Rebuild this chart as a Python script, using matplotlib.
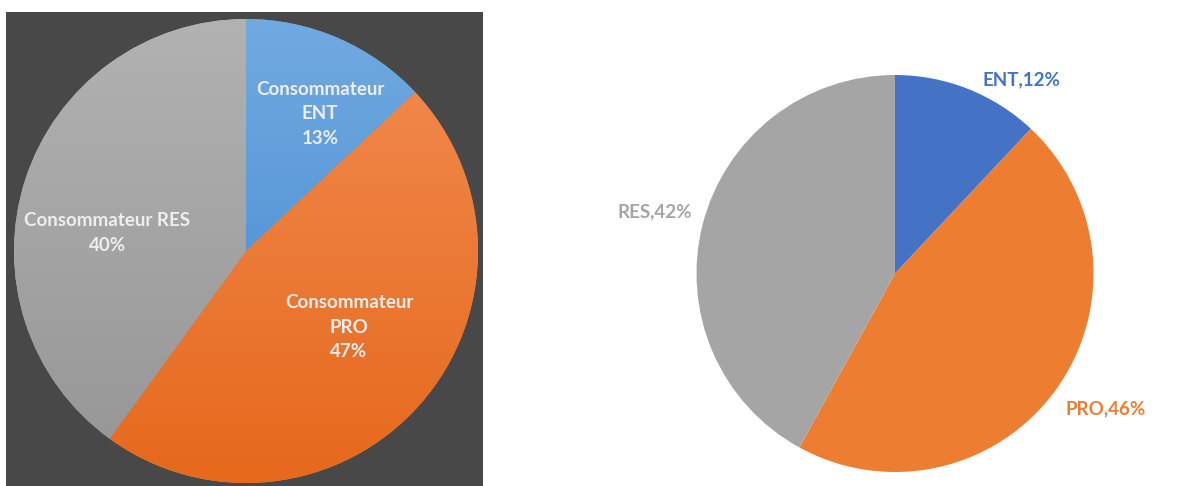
import matplotlib.pyplot as plt
import numpy as np
from matplotlib.colors import LinearSegmentedColormap

plt.rcParams['font.family'] = ['Lato', 'DejaVu Sans']

# left chart (dark, gradient)
left_labels = ['Consommateur\nENT\n13%', 'Consommateur\nPRO\n47%', 'Consommateur RES\n40%']
left_values = [13, 47, 40]
left_top = ['#71aae0', '#f28c52', '#b2b2b2']
left_bottom = ['#3f86cf', '#e6691c', '#959595']

# right chart (flat)
right_labels = ['ENT,12%', 'PRO,46%', 'RES,42%']
right_colors = ['#4472c4', '#ed7d31', '#a5a5a5']
right_values = [12, 46, 42]

W, H = 1196, 486
fig = plt.figure(figsize=(W / 100, H / 100), dpi=100)
fig.patch.set_facecolor('white')

# dark panel behind the left pie
bg = fig.add_axes([6 / W, 0, 477 / W, 474 / H])
bg.set_facecolor('#484848')
bg.set_xticks([])
bg.set_yticks([])
for s in bg.spines.values():
    s.set_visible(False)


def px_axes(cx, cy, r):
    return fig.add_axes([(cx - r) / W, (H - cy - r) / H, 2 * r / W, 2 * r / H])


# ---- left pie
ax1 = px_axes(246, 251, 232)
wedges, _ = ax1.pie(left_values, startangle=90, counterclock=False, radius=1,
                    colors=left_top, wedgeprops=dict(linewidth=0))
grad = np.linspace(0, 1, 256).reshape(-1, 1)
for w, c1, c2 in zip(wedges, left_top, left_bottom):
    cmap = LinearSegmentedColormap.from_list('g', [c1, c2])
    im = ax1.imshow(grad, cmap=cmap, extent=[-1, 1, -1, 1], aspect='auto', zorder=2)
    im.set_clip_path(w)
ax1.set_xlim(-1, 1)
ax1.set_ylim(-1, 1)
ax1.axis('off')

left_pos = [(0.319, 0.591), (0.444, -0.328), (-0.599, 0.078)]
for lab, (x, y) in zip(left_labels, left_pos):
    ax1.text(x, y, lab, ha='center', va='center', color='#eeeeee', fontsize=13.5,
             fontweight='bold', linespacing=1.55, zorder=5)

# ---- right pie
ax2 = px_axes(895, 273.5, 198.5)
ax2.pie(right_values, startangle=90, counterclock=False, radius=1,
        colors=right_colors, wedgeprops=dict(linewidth=0))
ax2.set_xlim(-1, 1)
ax2.set_ylim(-1, 1)
ax2.axis('off')

right_pos = [(0.635, 0.975), (1.063, -0.683), (-1.209, 0.310)]
for lab, c, (x, y) in zip(right_labels, right_colors, right_pos):
    ax2.text(x, y, lab, ha='center', va='center', color=c, fontsize=13.5,
             fontweight='bold')

fig.savefig('out.png', dpi=100)
